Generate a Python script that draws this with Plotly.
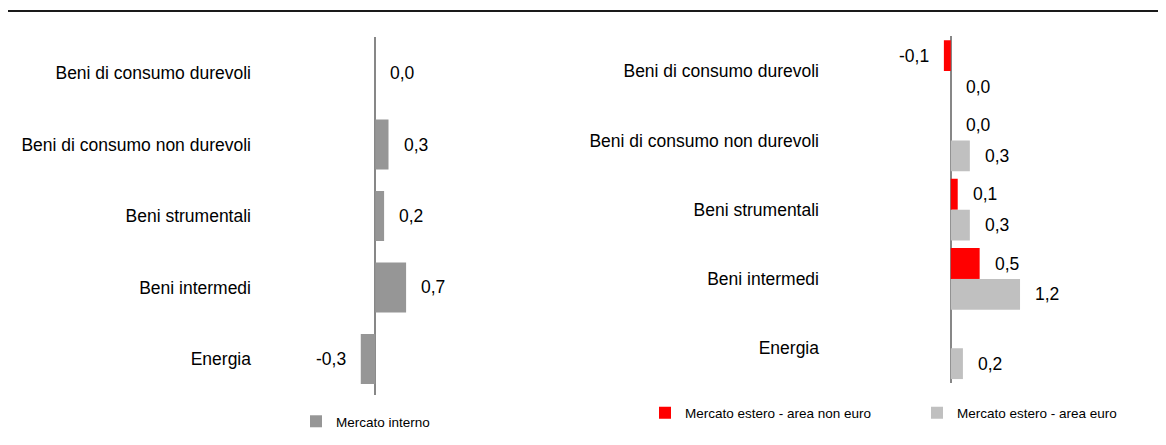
import plotly.graph_objects as go

categories = ["Beni di consumo durevoli", "Beni di consumo non durevoli",
              "Beni strumentali", "Beni intermedi", "Energia"]
mercato_interno = [0.0, 0.30, 0.20, 0.70, -0.33]
estero_non_euro = [-0.12, 0.0, 0.12, 0.50, None]
estero_euro = [0.0, 0.33, 0.33, 1.20, 0.21]

series_names = ["Mercato interno", "Mercato estero - area non euro", "Mercato estero - area euro"]
colors = ["#969696", "#ff0000", "#c0c0c0"]

# page body has an 8px margin, so the figure is drawn 8px in from the corner
OFF = 8
W, H = 1166 - 2 * OFF, 445 - 2 * OFF
FONT = "Liberation Sans, Arial, sans-serif"


def px_x(p):
    return (p - OFF) / W


def px_y(p):
    return 1 - (p - OFF) / H


def fmt(v):
    return f"{v:.1f}".replace(".", ",")


fig = go.Figure()

# Left panel
fig.add_trace(go.Bar(
    y=categories, x=mercato_interno, orientation="h", name=series_names[0],
    marker=dict(color=colors[0], line=dict(width=0)), width=0.7,
    xaxis="x", yaxis="y", legend="legend"))

# Right panel
bw = 0.445
fig.add_trace(go.Bar(
    y=categories, x=estero_non_euro, orientation="h", name=series_names[1],
    marker=dict(color=colors[1], line=dict(width=0)), width=bw, offset=-bw,
    xaxis="x2", yaxis="y2", legend="legend2"))
fig.add_trace(go.Bar(
    y=categories, x=estero_euro, orientation="h", name=series_names[2],
    marker=dict(color=colors[2], line=dict(width=0)), width=bw, offset=0,
    xaxis="x2", yaxis="y2", legend="legend3"))

annotations = []


def add_labels(values, xref, yref, shift):
    for i, v in enumerate(values):
        if v is None:
            continue
        pos = v >= 0
        annotations.append(dict(
            x=v, y=i + shift, xref=xref, yref=yref, text=fmt(v), showarrow=False,
            xanchor="left" if pos else "right", yanchor="middle",
            xshift=13 if pos else -13,
            font=dict(family=FONT, size=17.5, color="#000000")))


add_labels(mercato_interno, "x", "y", 0)
add_labels(estero_non_euro, "x2", "y2", -bw / 2)
add_labels(estero_euro, "x2", "y2", bw / 2)

axis_common = dict(showgrid=False, showticklabels=False, ticks="",
                   zeroline=True, zerolinecolor="#878787", zerolinewidth=2,
                   showline=False, automargin=False, fixedrange=True)
yaxis_common = dict(type="category", range=[len(categories) - 0.5, -0.5],
                    autorange=False, showgrid=False,
                    zeroline=False, showline=False, ticks="", automargin=False,
                    tickfont=dict(family=FONT, size=17.5, color="#000000"))

L0, L1, LZ, LS = 252, 480, 375.3, 44.0
R0, R1, RZ, RS = 820, 1110, 950.8, 57.7

legend_font = dict(family=FONT, size=13.5, color="#000000")

fig.update_layout(
    width=W, height=H, autosize=False,
    margin=dict(l=0, r=0, t=0, b=0),
    paper_bgcolor="white", plot_bgcolor="white",
    barmode="overlay",
    font=dict(family=FONT, color="#000000"),
    xaxis=dict(domain=[px_x(L0), px_x(L1)], range=[-(LZ - L0) / LS, (L1 - LZ) / LS], anchor="y", **axis_common),
    yaxis=dict(domain=[px_y(402), px_y(38)], anchor="x", **yaxis_common),
    xaxis2=dict(domain=[px_x(R0), px_x(R1)], range=[-(RZ - R0) / RS, (R1 - RZ) / RS], anchor="y2", **axis_common),
    yaxis2=dict(domain=[px_y(390), px_y(37)], anchor="x2", **yaxis_common),
    legend=dict(x=px_x(296), y=px_y(414), xanchor="left", yanchor="top",
                orientation="h", font=legend_font, bgcolor="rgba(0,0,0,0)", itemwidth=30),
    legend2=dict(x=px_x(645), y=px_y(405), xanchor="left", yanchor="top",
                 orientation="h", font=legend_font, bgcolor="rgba(0,0,0,0)", itemwidth=30),
    legend3=dict(x=px_x(917), y=px_y(405), xanchor="left", yanchor="top",
                 orientation="h", font=legend_font, bgcolor="rgba(0,0,0,0)", itemwidth=30),
    annotations=annotations,
    shapes=[dict(type="line", xref="paper", yref="paper",
                 x0=0, x1=1, y0=px_y(11), y1=px_y(11),
                 line=dict(color="#1a1a1a", width=2))],
    showlegend=True,
)

fig.write_html("out.html")
